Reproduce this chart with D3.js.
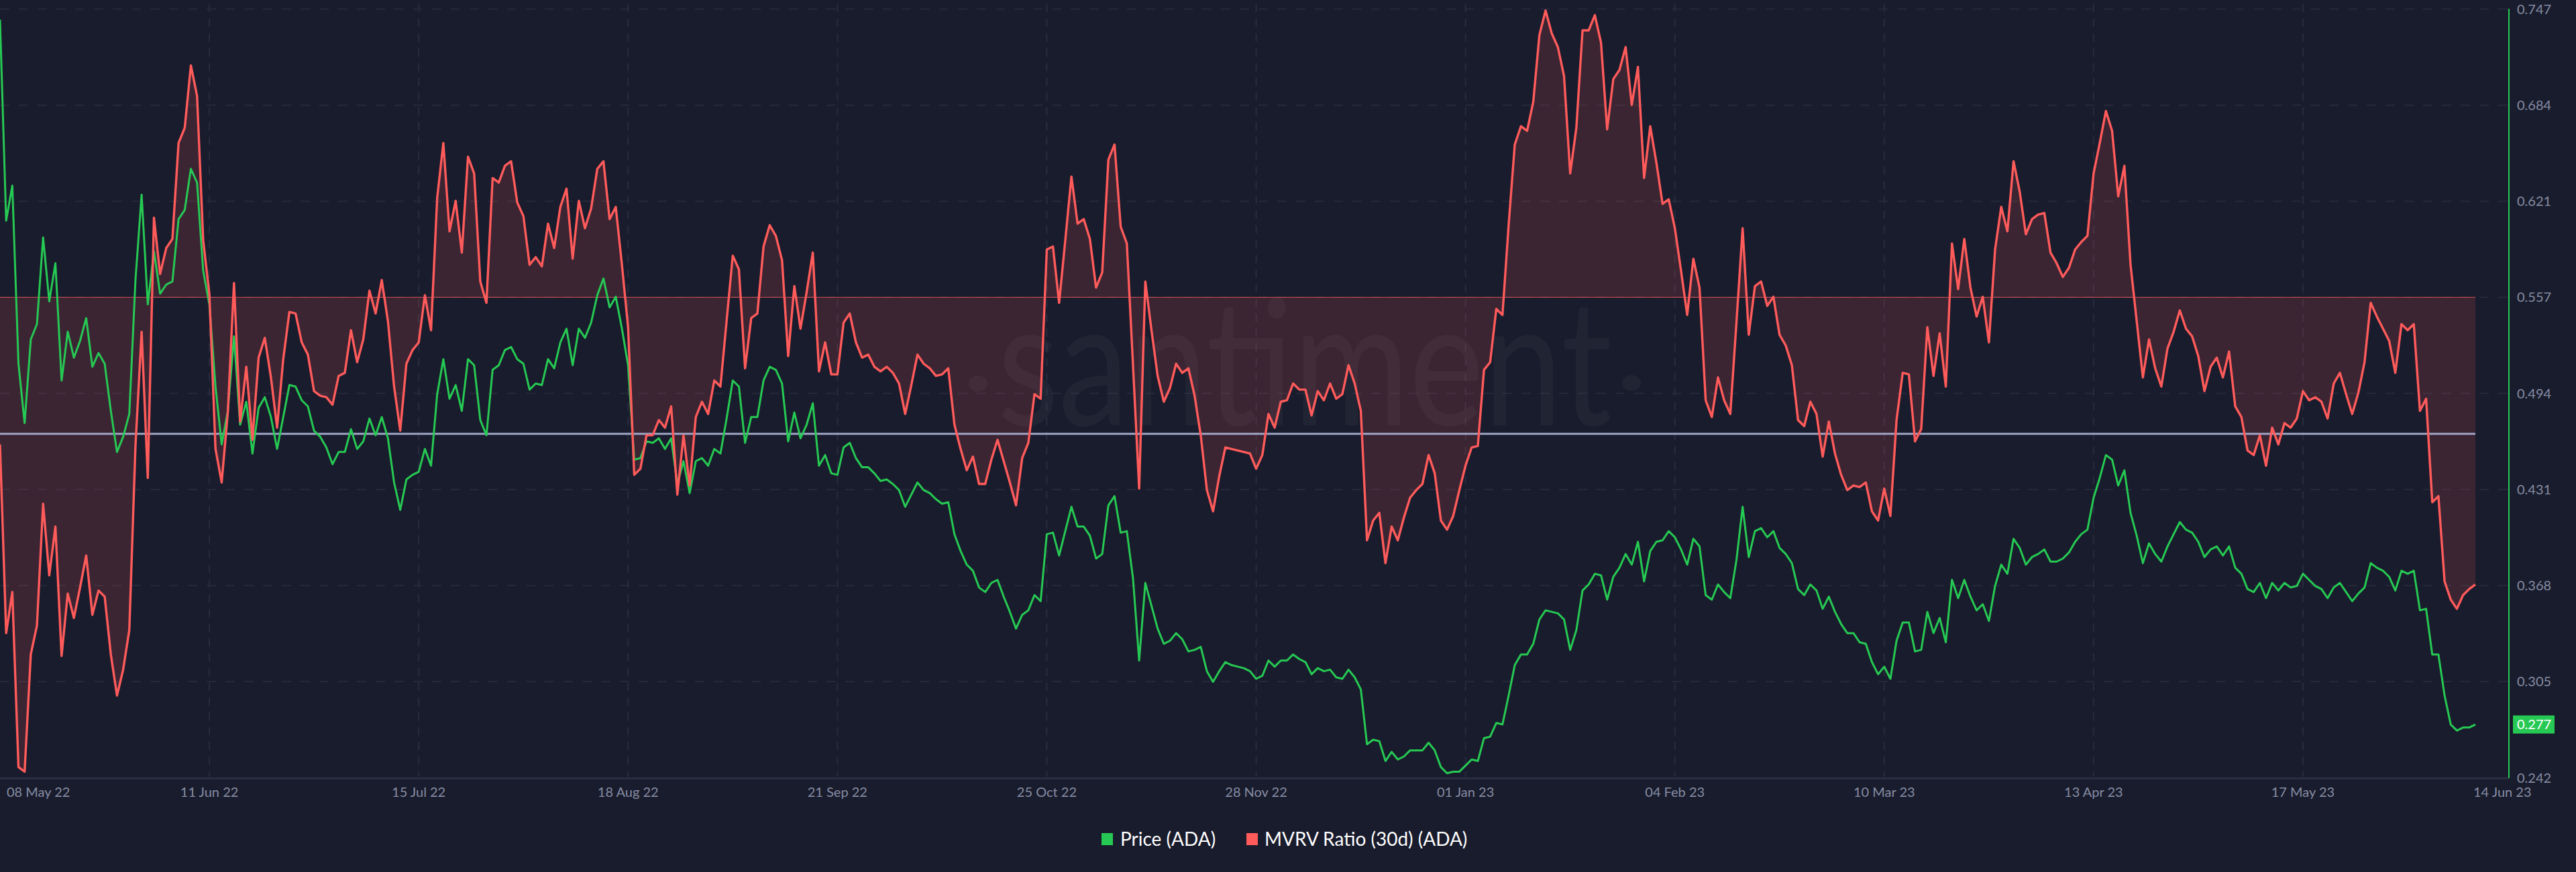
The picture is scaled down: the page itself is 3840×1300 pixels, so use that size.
<!DOCTYPE html>
<html><head><meta charset="utf-8">
<script src="https://cdnjs.cloudflare.com/ajax/libs/d3/7.8.5/d3.min.js"></script>
<style>html,body{margin:0;padding:0;background:#191c2c;}svg{display:block;}</style>
</head><body>
<script>
// ---- data (daily, 08 May 2022 -> 14 Jun 2023) ----
const startDate = "2022-05-08";
const endDate = "2023-06-14";

const price = [
0.740,0.608,0.631,0.514,0.475,0.530,0.540,0.597,0.555,0.580,
0.503,0.535,0.518,0.529,0.544,0.512,0.521,0.514,0.483,0.456,
0.466,0.481,0.569,0.625,0.553,0.588,0.560,0.566,0.568,0.609,
0.615,0.642,0.633,0.575,0.553,0.499,0.461,0.483,0.532,0.474,
0.489,0.455,0.485,0.492,0.479,0.458,0.479,0.500,0.499,0.490,
0.486,0.470,0.466,0.459,0.448,0.456,0.456,0.471,0.458,0.463,
0.478,0.467,0.479,0.465,0.436,0.418,
0.438,0.441,0.443,0.458,0.447,0.494,0.517,0.491,0.500,0.483,
0.517,0.513,0.477,0.467,0.510,0.513,0.523,0.525,0.517,0.514,
0.497,0.501,0.500,0.517,0.511,0.528,0.537,0.513,0.537,0.531,
0.541,0.559,0.570,0.551,0.558,0.537,0.513,0.451,0.452,0.463,
0.462,0.465,0.458,0.465,0.435,0.450,0.429,0.450,0.452,0.447,
0.458,0.455,0.478,0.503,0.499,0.462,0.479,
0.479,0.503,0.512,0.510,0.501,0.463,0.482,0.465,0.474,0.488,
0.447,0.454,0.442,0.441,0.459,0.462,0.452,0.446,0.446,0.442,
0.437,0.438,0.435,0.431,0.420,0.428,0.436,0.431,0.429,0.425,
0.422,0.423,0.402,0.391,0.382,0.378,0.367,0.364,0.370,0.372,
0.361,0.351,0.340,0.349,0.352,0.362,0.358,0.402,0.403,0.388,
0.404,0.420,0.407,0.407,0.401,0.386,
0.389,0.421,0.427,0.403,0.404,0.373,0.319,0.370,0.355,0.340,
0.330,0.332,0.337,0.333,0.325,0.326,0.328,0.312,0.305,0.312,
0.318,0.316,0.315,0.314,0.312,0.307,0.309,0.319,0.315,0.319,
0.319,0.323,0.320,0.318,0.310,0.314,0.312,0.313,0.308,0.307,
0.313,0.308,0.300,0.264,0.267,0.266,0.253,0.259,0.254,0.256,
0.260,0.260,0.260,0.265,0.260,0.249,0.245,
0.246,0.246,0.250,0.254,0.253,0.268,0.269,0.278,0.277,0.296,
0.316,0.323,0.323,0.330,0.346,0.352,0.351,0.350,0.346,0.326,
0.339,0.365,0.369,0.376,0.375,0.359,0.374,0.380,0.389,0.382,
0.397,0.371,0.391,0.397,0.398,0.404,0.400,0.392,0.382,0.399,
0.394,0.362,0.359,0.369,0.364,0.360,0.385,0.420,0.387,0.404,
0.406,0.400,0.404,0.393,0.389,0.383,0.366,
0.362,0.369,0.365,0.353,0.361,0.351,0.343,0.337,0.337,0.331,
0.330,0.318,0.310,0.315,0.307,0.332,0.344,0.344,0.325,0.326,
0.351,0.337,0.347,0.331,0.372,0.360,0.372,0.361,0.352,0.356,
0.345,0.368,0.382,0.376,0.399,0.393,0.382,0.387,0.389,0.392,
0.384,0.384,0.386,0.390,0.397,0.402,0.405,0.426,0.439,0.454,
0.451,0.434,0.444,0.416,0.401,0.383,
0.396,0.389,0.384,0.394,0.402,0.410,0.405,0.403,0.397,0.387,
0.392,0.394,0.388,0.394,0.380,0.376,0.366,0.364,0.370,0.360,
0.370,0.365,0.370,0.367,0.368,0.376,0.372,0.368,0.366,0.360,
0.367,0.370,0.364,0.358,0.363,0.367,0.383,0.380,0.378,0.374,
0.365,0.378,0.376,0.378,0.352,0.353,0.323,0.323,0.296,0.277,
0.273,0.275,0.275,0.277
];

const mvrv = [
0.461,0.337,0.364,0.249,0.246,0.323,0.342,0.422,0.375,0.407,
0.322,0.363,0.347,0.367,0.388,0.349,0.365,0.361,0.323,0.296,
0.313,0.339,0.460,0.535,0.439,0.610,0.573,0.590,0.596,0.659,
0.669,0.710,0.690,0.595,0.560,0.458,0.436,0.482,0.567,0.476,
0.512,0.464,0.518,0.531,0.505,0.472,0.517,0.548,0.547,0.528,
0.520,0.496,0.493,0.492,0.487,0.506,0.508,0.536,0.515,0.530,
0.562,0.547,0.569,0.542,0.499,0.470,
0.514,0.523,0.528,0.559,0.536,0.623,0.659,0.601,0.621,0.587,
0.650,0.639,0.568,0.554,0.636,0.633,0.644,0.647,0.620,0.611,
0.579,0.584,0.578,0.606,0.590,0.617,0.629,0.583,0.621,0.603,
0.616,0.642,0.647,0.609,0.617,0.579,0.538,0.441,0.445,0.467,
0.467,0.477,0.472,0.486,0.428,0.467,0.434,0.479,0.489,0.481,
0.503,0.499,0.542,0.585,0.576,0.511,0.544,
0.547,0.591,0.605,0.598,0.582,0.519,0.565,0.537,0.561,0.587,
0.509,0.528,0.507,0.507,0.541,0.547,0.528,0.518,0.520,0.512,
0.509,0.512,0.508,0.501,0.481,0.500,0.520,0.514,0.511,0.506,
0.507,0.511,0.474,0.458,0.444,0.453,0.435,0.435,0.451,0.464,
0.450,0.436,0.421,0.452,0.462,0.494,0.491,0.589,0.591,0.554,
0.595,0.637,0.606,0.609,0.596,0.564,
0.574,0.648,0.658,0.604,0.593,0.513,0.432,0.568,0.536,0.506,
0.489,0.498,0.514,0.508,0.511,0.493,0.467,0.431,0.417,0.440,
0.459,0.458,0.457,0.456,0.455,0.445,0.454,0.481,0.472,0.489,
0.490,0.501,0.497,0.497,0.480,0.496,0.490,0.501,0.491,0.494,
0.513,0.501,0.483,0.398,0.411,0.416,0.383,0.407,0.398,0.413,
0.426,0.431,0.435,0.454,0.442,0.411,0.405,
0.414,0.431,0.447,0.459,0.460,0.510,0.515,0.550,0.546,0.605,
0.658,0.670,0.667,0.686,0.730,0.746,0.731,0.722,0.703,0.639,
0.669,0.733,0.733,0.743,0.725,0.668,0.701,0.707,0.722,0.684,
0.709,0.636,0.670,0.646,0.619,0.622,0.603,0.575,0.546,0.583,
0.564,0.490,0.479,0.505,0.490,0.481,0.541,0.603,0.533,0.565,
0.568,0.552,0.558,0.533,0.526,0.513,0.477,
0.473,0.489,0.481,0.453,0.476,0.455,0.441,0.431,0.434,0.433,
0.436,0.417,0.411,0.432,0.414,0.477,0.508,0.507,0.463,0.471,
0.538,0.506,0.534,0.499,0.593,0.563,0.596,0.564,0.545,0.558,
0.528,0.589,0.617,0.601,0.647,0.627,0.599,0.609,0.612,0.613,
0.587,0.580,0.571,0.577,0.589,0.594,0.598,0.639,0.659,0.680,
0.667,0.624,0.644,0.579,0.542,0.505,
0.530,0.511,0.499,0.524,0.535,0.549,0.537,0.532,0.519,0.496,
0.512,0.518,0.505,0.522,0.486,0.479,0.457,0.454,0.467,0.447,
0.472,0.461,0.475,0.472,0.478,0.496,0.490,0.492,0.489,0.478,
0.501,0.508,0.494,0.481,0.495,0.515,0.554,0.545,0.537,0.529,
0.508,0.540,0.536,0.540,0.483,0.491,0.423,0.427,0.371,0.359,
0.353,0.362,0.366,0.369
];

const xTickDates = ["2022-05-08","2022-06-11","2022-07-15","2022-08-18","2022-09-21","2022-10-25",
  "2022-11-28","2023-01-01","2023-02-04","2023-03-10","2023-04-13","2023-05-17","2023-06-14"];
const xTickLabels = ["08 May 22","11 Jun 22","15 Jul 22","18 Aug 22","21 Sep 22","25 Oct 22",
  "28 Nov 22","01 Jan 23","04 Feb 23","10 Mar 23","13 Apr 23","17 May 23","14 Jun 23"];
const yTickLabels = ["0.242","0.305","0.368","0.431","0.494","0.557","0.621","0.684","0.747"];
const yMin = 0.242, yMax = 0.747;
const mvrvBaseline = 0.557625;   // red reference level (fill baseline)
const greyLevel = 0.468;         // grey reference level
const seriesNames = ["Price (ADA)", "MVRV Ratio (30d) (ADA)"];

// ---- chart ----
const W = 3840, H = 1300;
const C = {bg:"#191c2c", grid:"#282c3e", axisText:"#868ca4", green:"#26c953", red:"#ff5b5b", grey:"#9ea4c4"};
const parse = d3.utcParse("%Y-%m-%d");
const dates = d3.utcDay.range(parse(startDate), d3.utcDay.offset(parse(endDate), 1));

const x = d3.scaleUtc().domain([parse(startDate), parse(endDate)]).range([0, 3690]);
const y = d3.scaleLinear().domain([yMin, yMax]).range([1159.5, 13.5]);
const plotRight = 3740;

const svg = d3.select("body").append("svg").attr("width", W).attr("height", H)
  .style("font-family", "Lato, 'Open Sans', sans-serif");
svg.append("rect").attr("width", W).attr("height", H).attr("fill", C.bg);

const yTicks = yTickLabels.map((_, i) => yMin + i * (yMax - yMin) / (yTickLabels.length - 1));

// horizontal grid
svg.append("g").selectAll("line").data(yTicks.slice(1)).join("line")
  .attr("x1", 0).attr("x2", plotRight - 2)
  .attr("y1", d => y(d)).attr("y2", d => y(d))
  .attr("stroke", C.grid).attr("stroke-width", 1.5).attr("stroke-dasharray", "14,14");

// vertical grid
const xt = xTickDates.map(parse);
svg.append("g").selectAll("line").data(xt.slice(1, -1)).join("line")
  .attr("x1", d => x(d)).attr("x2", d => x(d))
  .attr("y1", 6).attr("y2", 1158)
  .attr("stroke", C.grid).attr("stroke-width", 2).attr("stroke-dasharray", "12,10");

// watermark
const wm = svg.append("g").attr("fill", "#ffffff").attr("fill-opacity", 0.035);
wm.append("text").attr("x", 1487).attr("y", 634).attr("font-size", 262)
  .attr("textLength", 916).attr("lengthAdjust", "spacingAndGlyphs").text("santiment");
wm.append("ellipse").attr("cx", 1458).attr("cy", 572).attr("rx", 14).attr("ry", 12);
wm.append("ellipse").attr("cx", 2432).attr("cy", 571).attr("rx", 14).attr("ry", 12);

// MVRV fill against baseline
const area = d3.area().x((d, i) => x(dates[i])).y0(y(mvrvBaseline)).y1(d => y(d));
svg.append("path").datum(mvrv).attr("d", area).attr("fill", C.red).attr("fill-opacity", 0.15);

// reference lines
svg.append("line").attr("x1", 0).attr("x2", x(parse(endDate)))
  .attr("y1", y(mvrvBaseline)).attr("y2", y(mvrvBaseline))
  .attr("stroke", C.red).attr("stroke-width", 1.2).attr("stroke-opacity", 0.85);
svg.append("line").attr("x1", 0).attr("x2", x(parse(endDate)))
  .attr("y1", y(greyLevel)).attr("y2", y(greyLevel))
  .attr("stroke", C.grey).attr("stroke-width", 3);

// bottom axis line
svg.append("line").attr("x1", 0).attr("x2", plotRight).attr("y1", 1160.5).attr("y2", 1160.5)
  .attr("stroke", "#2a2e42").attr("stroke-width", 3);

// series lines
const line = d3.line().x((d, i) => x(dates[i])).y(d => y(d)).curve(d3.curveLinear);
svg.append("path").datum(price).attr("d", line).attr("fill", "none")
  .attr("stroke", C.green).attr("stroke-width", 3).attr("stroke-linejoin", "round");
svg.append("path").datum(mvrv).attr("d", line).attr("fill", "none")
  .attr("stroke", C.red).attr("stroke-width", 3.4).attr("stroke-linejoin", "round");

// right axis
svg.append("line").attr("x1", plotRight).attr("x2", plotRight).attr("y1", 13).attr("y2", 1160)
  .attr("stroke", C.green).attr("stroke-width", 2);
svg.append("g").selectAll("text").data(yTicks).join("text")
  .attr("x", 3752).attr("y", d => y(d)).attr("dy", "0.35em")
  .attr("font-size", 20).attr("fill", C.axisText)
  .text((d, i) => yTickLabels[i]);

// last price tag
const lastP = price[price.length - 1];
svg.append("rect").attr("x", 3746).attr("y", y(lastP) - 13.5).attr("width", 62).attr("height", 27)
  .attr("fill", C.green);
svg.append("text").attr("x", 3752).attr("y", y(lastP)).attr("dy", "0.35em")
  .attr("font-size", 20).attr("fill", "#ffffff").text(d3.format(".3f")(lastP));

// x axis labels
svg.append("g").selectAll("text").data(xt).join("text")
  .attr("x", (d, i) => i === 0 ? 10 : (i === xt.length - 1 ? x(d) - 3 : x(d)))
  .attr("y", 1188)
  .attr("text-anchor", (d, i) => (i === 0 || i === xt.length - 1) ? "start" : "middle")
  .attr("font-size", 20).attr("fill", C.axisText)
  .text((d, i) => xTickLabels[i]);

// legend
const legend = svg.append("g");
const legItems = [
  {name: seriesNames[0], color: C.green, sx: 1642, tx: 1670},
  {name: seriesNames[1], color: C.red, sx: 1858, tx: 1885}
];
legItems.forEach(it => {
  legend.append("rect").attr("x", it.sx).attr("y", 1242).attr("width", 17).attr("height", 18).attr("fill", it.color);
  legend.append("text").attr("x", it.tx).attr("y", 1261).attr("font-size", 28).attr("fill", "#ffffff").text(it.name);
});
</script>
</body></html>
